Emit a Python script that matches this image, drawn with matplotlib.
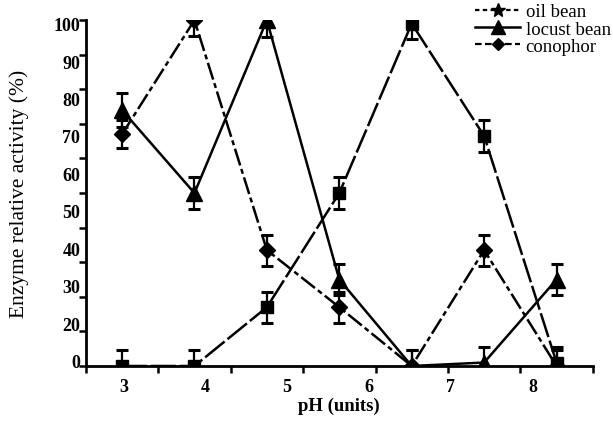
import numpy as np
import matplotlib
matplotlib.use("Agg")
import matplotlib.pyplot as plt
from matplotlib.lines import Line2D

# values (one point per pH step)
ph_labels = ['3', '4', '5', '6', '7', '8']
y_labels = ['0', '20', '30', '40', '50', '60', '70', '80', '90', '100']

oil_bean = [0, 0, 17, 50, 99, 66.5, 1]
oil_bean_err = [4.5, 4.5, 4.5, 4.5, 4.5, 4.5, 4.5]

locust_bean = [74, 50, 100, 25, 0, 1, 25]
locust_bean_err = [5, 4.5, 5, 4.5, 4.5, 4.5, 4.5]

conophor = [67, 100, 33.5, 17, 0, 33.5, 0]
conophor_err = [4, 4.5, 4.5, 4.5, 4.5, 4.5, 4.5]

plt.rcParams['font.family'] = ['Liberation Serif', 'DejaVu Serif']

fig = plt.figure(figsize=(6.13, 4.31), dpi=100)
ax = fig.add_axes([0.140, 0.1485, 0.827, 0.8025])

x = np.arange(len(oil_bean)) + 0.5
err_kw = dict(ecolor='black', elinewidth=1.6, capsize=4.5, capthick=2.2)

ax.errorbar(x, oil_bean, yerr=oil_bean_err, color='black', lw=1.8,
            ls=(0, (10, 1.5)), marker='s', ms=9, **err_kw)
ax.errorbar(x, locust_bean, yerr=locust_bean_err, color='black', lw=1.8,
            ls='-', marker='^', ms=11, **err_kw)
ax.errorbar(x, conophor, yerr=conophor_err, color='black', lw=1.8,
            ls=(0, (7, 1.5, 2, 1.5)), marker='D', ms=8, **err_kw)

ax.set_xlim(0, len(oil_bean))
ax.set_ylim(0, 100)

# tick marks on the grid, labels spread evenly as in the original scan
ax.set_xticks(np.arange(0, len(oil_bean) + 1))
ax.set_xticklabels([])
ax.set_xticks(np.linspace(0.52, 6.17, len(ph_labels)), ph_labels, minor=True)
ax.set_yticks(np.arange(0, 101, 10))
ax.set_yticklabels([])
ax.set_yticks(np.linspace(1.5, 99, len(y_labels)), y_labels, minor=True)

ax.tick_params(which='major', direction='out', length=5, width=1.8)
ax.tick_params(which='minor', length=0, labelsize=13)
ax.tick_params(axis='x', which='minor', pad=9)
ax.tick_params(axis='y', which='minor', pad=4)
for lab in ax.get_xticklabels(minor=True) + ax.get_yticklabels(minor=True):
    lab.set_fontweight('bold')

for side in ['top', 'right']:
    ax.spines[side].set_visible(False)
for side in ['left', 'bottom']:
    ax.spines[side].set_linewidth(2)

ax.set_xlabel('pH (units)', fontsize=13.5, fontweight='bold', labelpad=1)
ax.set_ylabel('Enzyme relative activity (%)', fontsize=15.5)
ax.yaxis.set_label_coords(-0.112, 0.5)

handles = [
    Line2D([], [], color='black', lw=1.6, ls=(0, (2, 1.5)), marker='*', ms=10),
    Line2D([], [], color='black', lw=1.8, ls='-', marker='^', ms=10),
    Line2D([], [], color='black', lw=1.6, ls=(0, (3, 1.5)), marker='D', ms=6),
]
fig.legend(handles, ['oil bean', 'locust bean', 'conophor'],
           loc='upper left', bbox_to_anchor=(0.775, 0.99), frameon=False,
           fontsize=13.5, handlelength=2.4, handletextpad=0.3,
           labelspacing=0.0, borderpad=0, borderaxespad=0)

fig.savefig('out.png', dpi=100)
